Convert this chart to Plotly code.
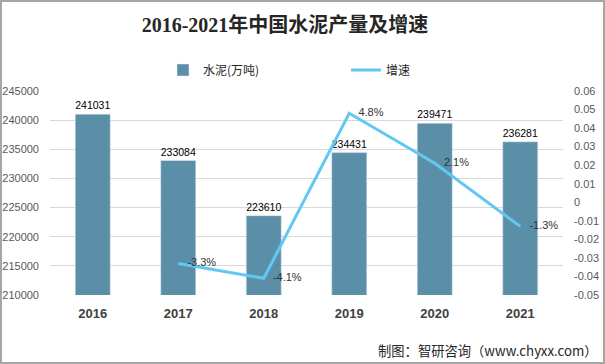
import plotly.graph_objects as go

years = ["2016", "2017", "2018", "2019", "2020", "2021"]
cement = [241031, 233084, 223610, 234431, 239471, 236281]
growth = [None, -0.033, -0.041, 0.048, 0.021, -0.013]
growth_labels = ["", "-3.3%", "-4.1%", "4.8%", "2.1%", "-1.3%"]
left_ticks = [210000, 215000, 220000, 225000, 230000, 235000, 240000, 245000]
right_ticks = [-0.05, -0.04, -0.03, -0.02, -0.01, 0, 0.01, 0.02, 0.03, 0.04, 0.05, 0.06]
right_tick_text = ["-0.05", "-0.04", "-0.03", "-0.02", "-0.01", "0", "0.01", "0.02", "0.03", "0.04", "0.05", "0.06"]

W, H = 605, 364
L, R, T, B = 50, 42, 91, 69
pw, ph = W - L - R, H - T - B

fig = go.Figure()
fig.add_trace(go.Bar(
    x=years, y=cement, name="水泥(万吨)",
    marker=dict(color="#5B8FA8"),
    text=[str(v) for v in cement], textposition="outside",
    textfont=dict(family="Liberation Sans", size=11, color="#000000"),
    cliponaxis=False,
))
fig.add_trace(go.Scatter(
    x=years, y=growth, name="增速", yaxis="y2",
    mode="lines+text", line=dict(color="#62C8F3", width=3),
    text=["   " + t for t in growth_labels], textposition="middle right",
    textfont=dict(family="Liberation Sans", size=11, color="#333333"),
    connectgaps=False, cliponaxis=False,
))

fig.update_layout(
    width=W, height=H,
    margin=dict(l=L, r=R, t=T, b=B, autoexpand=False),
    paper_bgcolor="white", plot_bgcolor="white",
    bargap=0.59,
    title=dict(text="<b>2016-2021年中国水泥产量及增速</b>", x=285 / W, xanchor="center",
               y=1 - 25 / H, yanchor="middle",
               font=dict(family="Liberation Serif, Noto Sans CJK SC", size=20, color="#262626")),
    legend=dict(orientation="h", x=(163 - L) / pw, xanchor="left", y=1 + 21 / ph, yanchor="middle",
                font=dict(family="Noto Sans CJK SC", size=12, color="#262626"),
                entrywidth=138, entrywidthmode="pixels", itemwidth=30, tracegroupgap=0),
    xaxis=dict(type="category", showgrid=False, showline=False, ticks="", ticklabelstandoff=9,
               tickfont=dict(family="Liberation Sans", size=13, color="#404040", weight="bold")),
    yaxis=dict(range=[210000, 245000], tickvals=left_ticks, ticktext=[str(v) for v in left_ticks],
               showgrid=True, gridcolor="#D9D9D9", gridwidth=1, zeroline=False, ticklabelstandoff=10,
               tickfont=dict(family="Liberation Sans", size=11, color="#595959"), ticks=""),
    yaxis2=dict(range=[-0.05, 0.06], overlaying="y", side="right", ticklabelstandoff=10,
                tickvals=right_ticks, ticktext=right_tick_text, showgrid=False, zeroline=False,
                tickfont=dict(family="Liberation Sans", size=11, color="#595959"), ticks=""),
    shapes=[dict(type="rect", xref="paper", yref="paper",
                 x0=-(L - 1) / pw, x1=1 + (R - 1) / pw,
                 y0=-(B - 1) / ph, y1=1 + (T - 1) / ph,
                 line=dict(color="#A6A6A6", width=2), layer="above")],
    annotations=[dict(text="制图：智研咨询（www.chyxx.com）", xref="paper", yref="paper",
                      x=(600 - L) / pw, xanchor="right", y=-(B - 14) / ph, yanchor="middle",
                      showarrow=False,
                      font=dict(family="Noto Sans CJK SC", size=13.3, color="#262626"))],
)

fig.write_html("out.html", config={"displayModeBar": False},
               post_script="document.body.style.margin='0';")
